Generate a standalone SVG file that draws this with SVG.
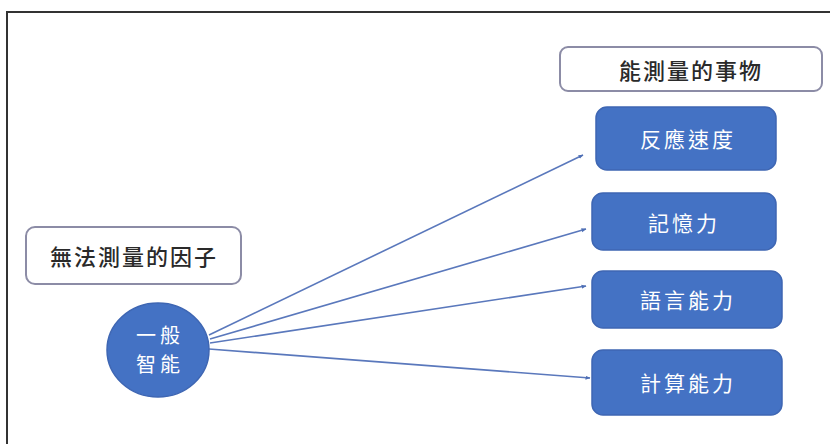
<svg xmlns="http://www.w3.org/2000/svg" width="830" height="444" viewBox="0 0 830 444">
  <defs>
    <marker id="arrow" viewBox="0 0 10 10" refX="9" refY="5" markerWidth="5" markerHeight="5" orient="auto" markerUnits="userSpaceOnUse">
      <path d="M0,1 L10,5 L0,9 z" fill="#4E6FB5"/>
    </marker>
    <style>
      .frame { fill: none; stroke: #333; stroke-width: 2; }
      .label { fill: #ffffff; stroke: #8C8CA6; stroke-width: 2; }
      .box { fill: #4472C4; stroke: #3E66B3; stroke-width: 1.5; }
      .conn { stroke: #5A78BC; stroke-width: 1.6; fill: none; marker-end: url(#arrow); }
      .dark { font-family: "Noto Sans CJK TC", "Noto Sans CJK SC", sans-serif; font-size: 22px; fill: #2A2A2A; font-weight: 500; letter-spacing: 2px; text-anchor: middle; dominant-baseline: central; }
      .white { font-family: "Noto Sans CJK TC", "Noto Sans CJK SC", sans-serif; font-size: 21px; fill: #ffffff; letter-spacing: 3px; text-anchor: middle; dominant-baseline: central; }
      .small { font-size: 20px; letter-spacing: 4px; }
    </style>
  </defs>
  <rect width="830" height="444" fill="#ffffff"/>
  <path class="frame" d="M7,445 L7,12 L831,12"/>

  <g id="connectors">
    <line class="conn" x1="209" y1="335" x2="583" y2="155"/>
    <line class="conn" x1="210" y1="339" x2="586" y2="229"/>
    <line class="conn" x1="210" y1="343" x2="586" y2="286"/>
    <line class="conn" x1="209" y1="349" x2="590" y2="378"/>
  </g>

  <g id="label-measurable">
    <rect class="label" x="560" y="47" width="262" height="44" rx="8"/>
    <text class="dark" x="691" y="69">能測量的事物</text>
  </g>
  <g id="label-unmeasurable">
    <rect class="label" x="26" y="227" width="215" height="57" rx="9"/>
    <text class="dark" x="134" y="255">無法測量的因子</text>
  </g>

  <g id="node-g">
    <ellipse class="box" cx="158" cy="350" rx="51" ry="47"/>
    <text class="white small" x="160" y="334">一般</text>
    <text class="white small" x="160" y="363">智能</text>
  </g>

  <g id="node-reaction">
    <rect class="box" x="596" y="107" width="180" height="63" rx="11"/>
    <text class="white" x="688" y="138">反應速度</text>
  </g>
  <g id="node-memory">
    <rect class="box" x="592" y="193" width="184" height="57" rx="11"/>
    <text class="white" x="684" y="222">記憶力</text>
  </g>
  <g id="node-language">
    <rect class="box" x="592" y="271" width="190" height="57" rx="11"/>
    <text class="white" x="688" y="299">語言能力</text>
  </g>
  <g id="node-calc">
    <rect class="box" x="592" y="350" width="190" height="65" rx="11"/>
    <text class="white" x="688" y="382">計算能力</text>
  </g>
</svg>
